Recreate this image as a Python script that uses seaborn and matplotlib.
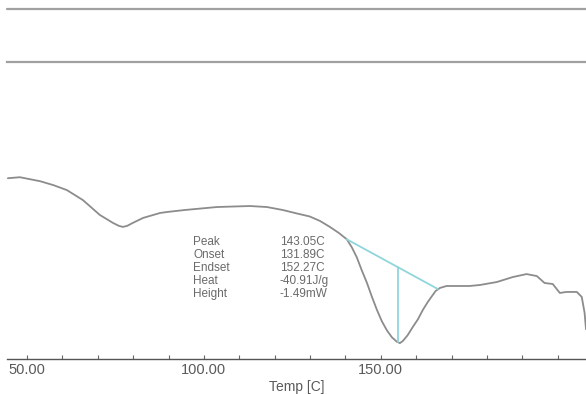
import matplotlib
matplotlib.use("Agg")
import matplotlib.pyplot as plt
from matplotlib.lines import Line2D
import seaborn as sns
import pandas as pd

# DSC curve: temperature (C) and heat flow (mW, arbitrary offset)
temp = [44.6, 48.0, 53.7, 57.5, 61.3, 65.8, 70.6, 74.3, 76.0, 77.1, 78.3, 79.9,
        82.8, 87.6, 89.6, 94.6, 103.7, 108.2, 113.0, 117.8, 122.3, 126.3, 129.9,
        132.8, 135.6, 138.1, 140.4, 141.8, 143.2, 144.6, 146.1, 147.5, 148.9,
        150.3, 151.7, 153.1, 154.5, 155.4, 156.2, 157.6, 159.0, 160.5, 161.9,
        163.3, 164.7, 165.5, 166.7, 168.6, 172.3, 175.1, 178.0, 182.8, 187.3,
        191.2, 194.1, 196.3, 198.6, 200.6, 202.5, 205.4, 206.8, 207.6, 208.0]
heat_flow = [3.64, 3.66, 3.58, 3.50, 3.40, 3.20, 2.90, 2.74, 2.68, 2.66, 2.68, 2.74,
             2.84, 2.94, 2.96, 3.00, 3.06, 3.07, 3.08, 3.06, 3.00, 2.93, 2.87,
             2.78, 2.66, 2.54, 2.41, 2.25, 2.05, 1.79, 1.53, 1.25, 0.99,
             0.76, 0.58, 0.44, 0.35, 0.32, 0.36, 0.48, 0.64, 0.80, 0.99,
             1.15, 1.29, 1.37, 1.43, 1.47, 1.47, 1.47, 1.49, 1.55, 1.65,
             1.71, 1.67, 1.53, 1.51, 1.33, 1.35, 1.35, 1.25, 0.93, 0.60]

# integration baseline and peak marker
baseline_t = [140.4, 166.1]
baseline_hf = [2.41, 1.41]
peak_line_t = [154.8, 154.8]
peak_line_hf = [0.34, 1.85]

tick_major = [50, 100, 150]
tick_labels = ["50.00", "100.00", "150.00"]
tick_minor = [60, 70, 80, 90, 110, 120, 130, 140, 160, 170, 180, 190, 200]

ann_names = ["Peak", "Onset", "Endset", "Heat", "Height"]
ann_values = ["143.05C", "131.89C", "152.27C", "-40.91J/g", "-1.49mW"]

sns.set_style("white")
plt.rcParams["font.family"] = ["Liberation Sans", "DejaVu Sans"]

W, H = 586, 394
fig = plt.figure(figsize=(W / 100, H / 100), dpi=100)
left = 7 / W
bottom = (H - 359) / H
top = (H - 62) / H
ax = fig.add_axes([left, bottom, 1 - left, top - bottom])

df = pd.DataFrame({"Temp": temp, "HF": heat_flow})
sns.lineplot(data=df, x="Temp", y="HF", ax=ax, color="#8c8c8c", linewidth=1.3,
             sort=False, estimator=None)
sns.lineplot(x=baseline_t, y=baseline_hf, ax=ax, color="#8fd6dc", linewidth=1.3,
             estimator=None)
sns.lineplot(x=peak_line_t, y=peak_line_hf, ax=ax, color="#8fd6dc", linewidth=1.3,
             estimator=None)
for ln in ax.lines:
    ln.set_solid_joinstyle("round")

ax.set_xlim(44.35, 208.0)
ax.set_ylim(0, 5.98)
ax.set_xticks(tick_major)
ax.set_xticklabels(tick_labels, fontsize=10.5, color="#5a5a5a")
ax.set_xticks(tick_minor, minor=True)
ax.tick_params(axis="x", which="both", direction="in", length=3, width=0.8,
               color="#666666", bottom=True, pad=3)
ax.set_yticks([])
ax.set_xlabel("Temp [C]", fontsize=10, color="#5a5a5a", labelpad=2)
ax.set_ylabel("")

for side in ["left", "right"]:
    ax.spines[side].set_visible(False)
ax.spines["bottom"].set_color("#555555")
ax.spines["bottom"].set_linewidth(1.0)
ax.spines["top"].set_color("#a0a0a0")
ax.spines["top"].set_linewidth(1.6)

# top frame line above the plot
fig.add_artist(Line2D([left, 1.0], [(H - 9) / H, (H - 9) / H],
                      transform=fig.transFigure, color="#a0a0a0", linewidth=1.6))

# annotation table
row_y = [242, 255, 268, 281, 294]
for name, val, py in zip(ann_names, ann_values, row_y):
    yf = (H - py) / H
    fig.text(193 / W, yf, name, fontsize=8.5, color="#6a6a6a", va="center", ha="left")
    fig.text(280 / W, yf, val, fontsize=8.5, color="#6a6a6a", va="center", ha="left")

fig.savefig("out.png", dpi=100, facecolor="white")
